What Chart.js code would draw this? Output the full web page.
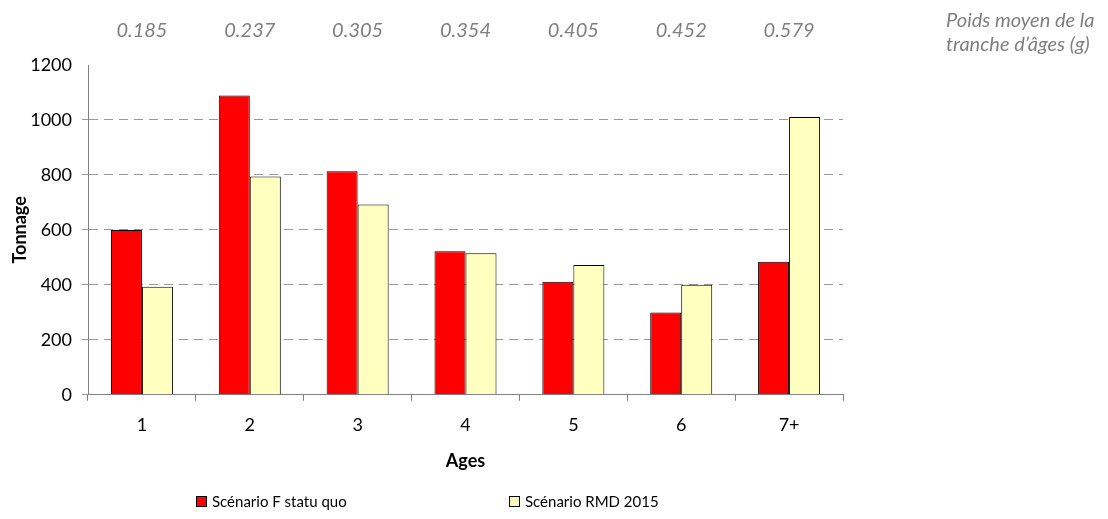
<!DOCTYPE html>
<html>
<head>
<meta charset="utf-8">
<script src="https://cdn.jsdelivr.net/npm/chart.js@4.4.0/dist/chart.umd.min.js"></script>
<style>
  html, body { margin: 0; padding: 0; background: #fff; }
  #wrap { width: 1108px; height: 519px; }
</style>
</head>
<body>
<div id="wrap"><canvas id="chart" width="1108" height="519"></canvas></div>
<script>
// Données
const ages       = ['1', '2', '3', '4', '5', '6', '7+'];
const poidsMoyen = ['0.185', '0.237', '0.305', '0.354', '0.405', '0.452', '0.579'];
const statuQuo   = [600, 1089, 813, 522, 411, 299, 484];
const rmd2015    = [393, 794, 692, 515, 472, 400, 1011];
const yTicks     = [0, 200, 400, 600, 800, 1000, 1200];

const FONT = "Lato, 'Open Sans', sans-serif";

// Poids moyens au-dessus, texte à droite, légende
const extras = {
  id: 'extras',
  afterDraw(chart) {
    const { ctx, chartArea } = chart;
    const xs = chart.scales.x;
    ctx.save();
    ctx.font = `italic 20px ${FONT}`;
    ctx.fillStyle = '#7f7f7f';
    ctx.textBaseline = 'middle';

    ctx.textAlign = 'center';
    poidsMoyen.forEach((p, i) => {
      ctx.fillText(p, xs.getPixelForValue(i), chartArea.top - 34);
    });

    ctx.textAlign = 'left';
    ctx.fillText('Poids moyen de la', chartArea.right + 103, 21);
    ctx.fillText('tranche d\u2019\u00e2ges (g)', chartArea.right + 103, 45);

    // légende
    const y = 502;
    const starts = [chartArea.left + 108, chartArea.left + 421];
    ctx.font = `15px ${FONT}`;
    chart.data.datasets.forEach((ds, i) => {
      const x = starts[i];
      ctx.fillStyle = ds.backgroundColor;
      ctx.fillRect(x, y - 6, 11, 11);
      ctx.strokeStyle = '#000';
      ctx.lineWidth = 1;
      ctx.strokeRect(x + 0.5, y - 5.5, 10, 10);
      ctx.fillStyle = '#000';
      ctx.fillText(ds.label, x + 16, y);
    });
    ctx.restore();
  }
};

new Chart(document.getElementById('chart').getContext('2d'), {
  type: 'bar',
  data: {
    labels: ages,
    datasets: [
      {
        label: 'Sc\u00e9nario F statu quo',
        data: statuQuo,
        backgroundColor: '#ff0000',
        borderColor: '#000000',
        borderWidth: 1,
        categoryPercentage: 0.575,
        barPercentage: 1,
      },
      {
        label: 'Sc\u00e9nario RMD 2015',
        data: rmd2015,
        backgroundColor: '#ffffc0',
        borderColor: '#000000',
        borderWidth: 1,
        categoryPercentage: 0.575,
        barPercentage: 1,
      }
    ]
  },
  options: {
    responsive: false,
    animation: false,
    layout: { padding: { top: 65, right: 265, bottom: 47, left: 9 } },
    plugins: {
      legend: { display: false },
      tooltip: { enabled: false }
    },
    scales: {
      x: {
        grid: {
          offset: true,
          drawOnChartArea: false,
          tickLength: 6,
          color: '#808080'
        },
        border: { color: '#808080', width: 1 },
        ticks: { color: '#000', font: { family: FONT, size: 18 }, padding: 14 },
        title: {
          display: true,
          text: 'Ages',
          color: '#000',
          font: { family: FONT, size: 18, weight: 'bold' },
          padding: { top: 0, bottom: 0 }
        }
      },
      y: {
        min: 0,
        max: 1200,
        afterBuildTicks: (axis) => { axis.ticks = yTicks.map(v => ({ value: v })); },
        afterFit: (axis) => { axis.width = 79; },
        grid: {
          color: (c) => c.tick && c.tick.value === 1200 ? 'rgba(0,0,0,0)' : '#999999',
          tickLength: 6
        },
        border: { color: '#808080', width: 1, dash: [9, 6] },
        ticks: {
          color: '#000',
          font: { family: FONT, size: 18 },
          padding: 10,
          callback: (v) => String(v)
        },
        title: {
          display: true,
          text: 'Tonnage',
          color: '#000',
          font: { family: FONT, size: 18, weight: 'bold' },
          padding: { top: 0, bottom: 0 }
        }
      }
    }
  },
  plugins: [extras]
});
</script>
</body>
</html>
